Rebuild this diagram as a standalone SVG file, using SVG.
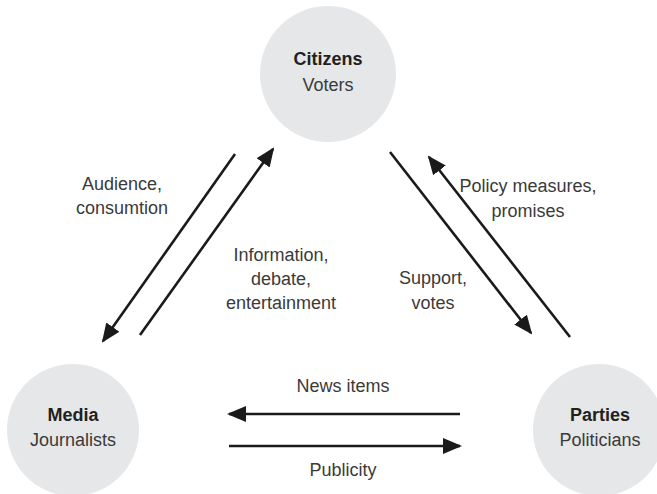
<svg xmlns="http://www.w3.org/2000/svg" width="657" height="494" viewBox="0 0 657 494">
<style>
.node{fill:#e6e7e8}
.t{font-family:"Liberation Sans",Arial,sans-serif;font-size:18px;fill:#3a3a3a;text-anchor:middle}
.b{font-weight:bold;fill:#231f20}
.c{stroke:#1a1a1a;stroke-width:2.6;fill:none}
</style>
<defs>
<marker id="ah" markerUnits="userSpaceOnUse" markerWidth="19" markerHeight="16" viewBox="0 0 19 16" refX="17" refY="8" orient="auto">
<path d="M0,0 L19,8 L0,16 Z" fill="#1a1a1a"/>
</marker>
</defs>
<rect width="657" height="494" fill="#fff"/>
<g id="citizens">
<circle class="node" cx="328" cy="74" r="68"/>
<text class="t b" x="328" y="65">Citizens</text>
<text class="t" x="328" y="91">Voters</text>
</g>
<g id="media">
<circle class="node" cx="73" cy="430" r="66"/>
<text class="t b" x="73" y="421">Media</text>
<text class="t" x="73" y="446">Journalists</text>
</g>
<g id="parties">
<circle class="node" cx="599" cy="430" r="66"/>
<text class="t b" x="600" y="421">Parties</text>
<text class="t" x="600" y="446">Politicians</text>
</g>
<g id="connectors">
<line class="c" x1="235" y1="154" x2="103" y2="341" marker-end="url(#ah)"/>
<line class="c" x1="140" y1="335" x2="273" y2="149" marker-end="url(#ah)"/>
<line class="c" x1="390" y1="152" x2="531" y2="333" marker-end="url(#ah)"/>
<line class="c" x1="570" y1="337" x2="429" y2="157" marker-end="url(#ah)"/>
<line class="c" x1="460" y1="414" x2="229" y2="414" marker-end="url(#ah)"/>
<line class="c" x1="229" y1="446" x2="460" y2="446" marker-end="url(#ah)"/>
</g>
<g id="labels">
<text class="t" x="122" y="190">Audience,</text>
<text class="t" x="122" y="214">consumtion</text>
<text class="t" x="281" y="261">Information,</text>
<text class="t" x="281" y="285">debate,</text>
<text class="t" x="281" y="309">entertainment</text>
<text class="t" x="528" y="192">Policy measures,</text>
<text class="t" x="528" y="217">promises</text>
<text class="t" x="433" y="284">Support,</text>
<text class="t" x="433" y="309">votes</text>
<text class="t" x="343" y="392">News items</text>
<text class="t" x="343" y="476">Publicity</text>
</g>
</svg>
